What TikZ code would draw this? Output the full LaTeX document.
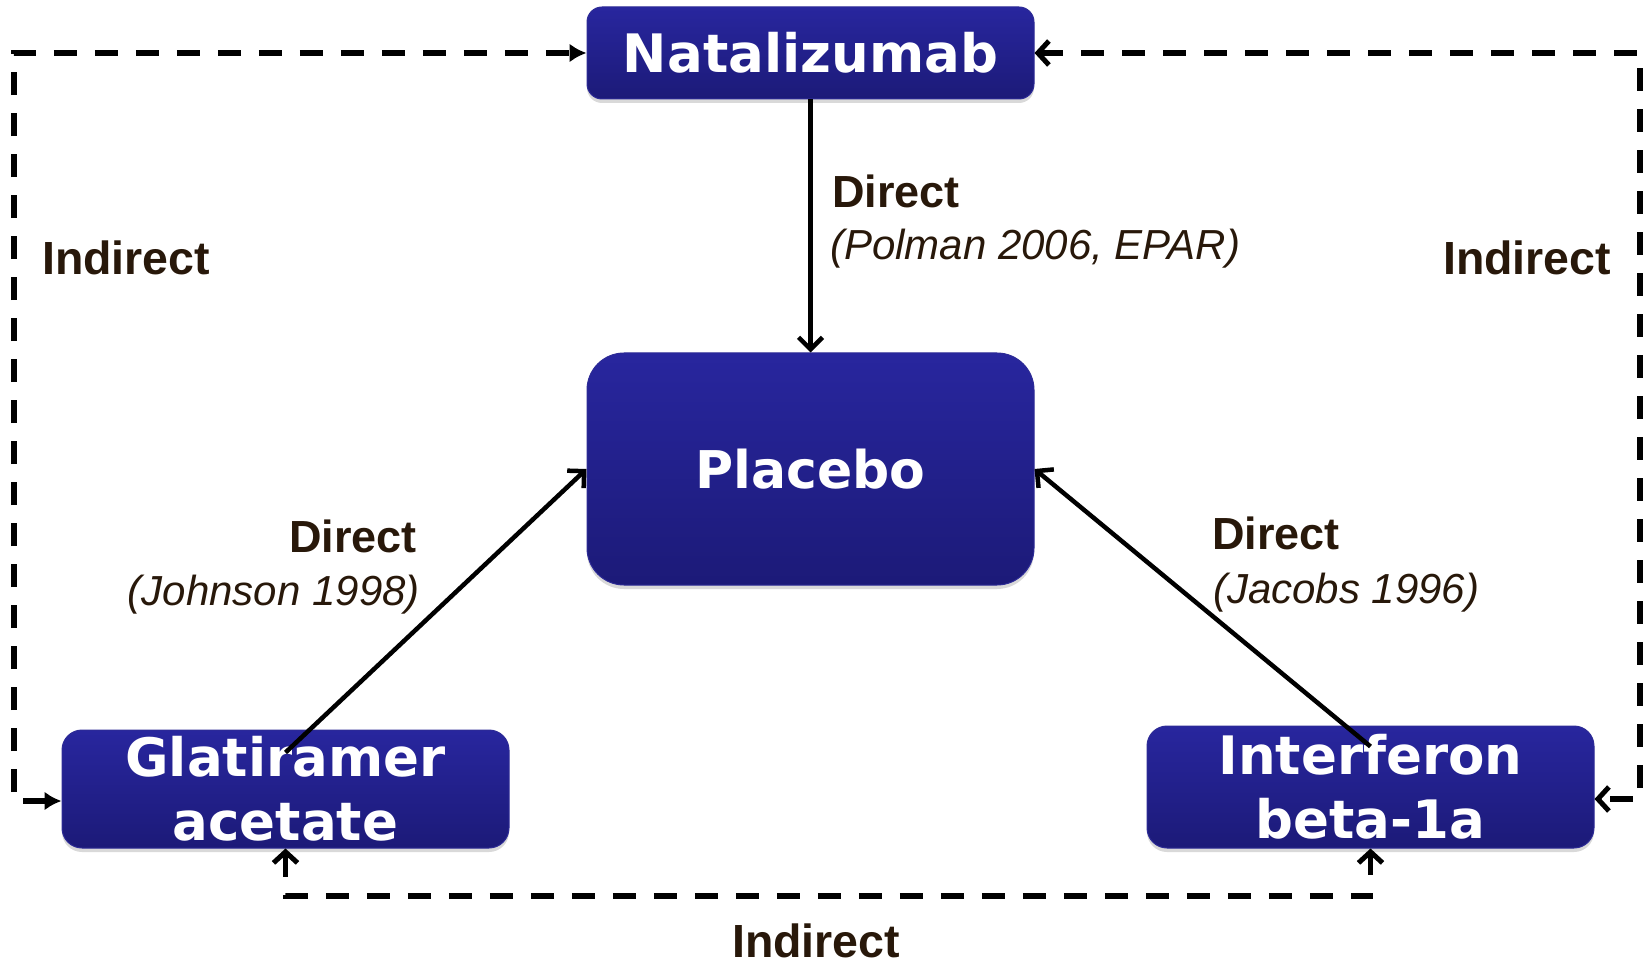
\documentclass[tikz,border=0pt]{standalone}
\usepackage{fontspec}
\setmainfont{Liberation Sans}
\newfontfamily\boxfont{DejaVu Sans}
\usetikzlibrary{arrows.meta,shadows,calc}
\definecolor{lblbrown}{RGB}{40,24,10}
\definecolor{boxtop}{RGB}{40,38,158}
\definecolor{boxbot}{RGB}{28,26,120}
\definecolor{boxedge}{RGB}{45,43,150}
\begin{document}
\begin{tikzpicture}[x=1pt,y=-1pt,
  drug/.style={rounded corners=#1, top color=boxtop, bottom color=boxbot, draw=boxedge,
    line width=1pt, text=white, font=\boxfont\bfseries\fontsize{53}{64}\selectfont,
    align=center, minimum width=447pt, inner sep=0pt,
    drop shadow={opacity=0.3, shadow xshift=0pt, shadow yshift=-4pt}},
  drug/.default=15pt,
  lbl/.style={text=lblbrown, font=\bfseries\fontsize{45}{54}\selectfont, inner sep=0pt},
  cite/.style={text=lblbrown, font=\itshape\fontsize{42}{50}\selectfont, inner sep=0pt},
  direct/.style={line width=4.5pt, -{Straight Barb[length=12pt,width=24pt]}},
  indirect/.style={line width=5.5pt, dash pattern=on 23pt off 18pt},
  barbs/.style={{Straight Barb[length=11pt,width=24pt,line width=5pt]}-{Straight Barb[length=11pt,width=24pt,line width=5pt]}},
  tris/.style={{Latex[length=17pt,width=19pt]}-{Latex[length=17pt,width=19pt]}}
]
\useasboundingbox (0,0) rectangle (1649,965);

% boxes
\node[drug, minimum height=92pt] (nat) at (810.5,53) {Natalizumab};
\node[drug=37pt, minimum height=232pt, font=\boxfont\bfseries\fontsize{52}{62}\selectfont] (plac) at (810.5,469) {Placebo};
\node[drug=20pt, minimum height=118pt] (glat) at (285.5,789) {Glatiramer\\acetate};
\node[drug=20pt, minimum height=122pt] (interf) at (1370.5,787) {Interferon\\beta-1a};

% helper coordinates
\coordinate (lx) at (14,0);
\coordinate (rx) at (1640,0);
\coordinate (by) at (0,896);
\coordinate (glatin) at ($(glat.west)+(0,12)$);
\coordinate (intin) at ($(interf.east)+(0,12)$);
\coordinate (glatsrc) at ($(glat.north)+(0,23)$);
\coordinate (intsrc) at ($(interf.north)+(0,21)$);

% direct connectors
\draw[direct] (nat.south) -- (plac.north);
\draw[direct] (glatsrc) -- (plac.west);
\draw[direct] (intsrc) -- (plac.east);

% indirect connectors
\draw[indirect, tris] (glatin) -- (lx |- glatin) -- (lx |- nat.west) -- (nat.west);
\draw[indirect, barbs] (nat.east) -- (rx |- nat.east) -- (rx |- intin) -- (intin);
\draw[indirect, barbs] (glat.south) -- (glat.south |- by) -- (interf.south |- by) -- (interf.south);

% labels
\node[lbl, anchor=base west] (d1) at (832,208) {Direct};
\node[cite, anchor=base west] (c1) at (830,260) {(Polman 2006, EPAR)};
\node[lbl, anchor=base east] (d2) at (417,552) {Direct};
\node[cite, anchor=base east] (c2) at (420,605) {(Johnson 1998)};
\node[lbl, anchor=base west] (d3) at (1212,549) {Direct};
\node[cite, anchor=base west] (c3) at (1213,603) {(Jacobs 1996)};
\node[lbl, anchor=base west, font=\bfseries\fontsize{46.5}{54}\selectfont] (i1) at (42,275) {Indirect};
\node[lbl, anchor=base west, font=\bfseries\fontsize{46.5}{54}\selectfont] (i2) at (1443,275) {Indirect};
\node[lbl, anchor=base west, font=\bfseries\fontsize{46.5}{54}\selectfont] (i3) at (732,957) {Indirect};
\end{tikzpicture}
\end{document}
